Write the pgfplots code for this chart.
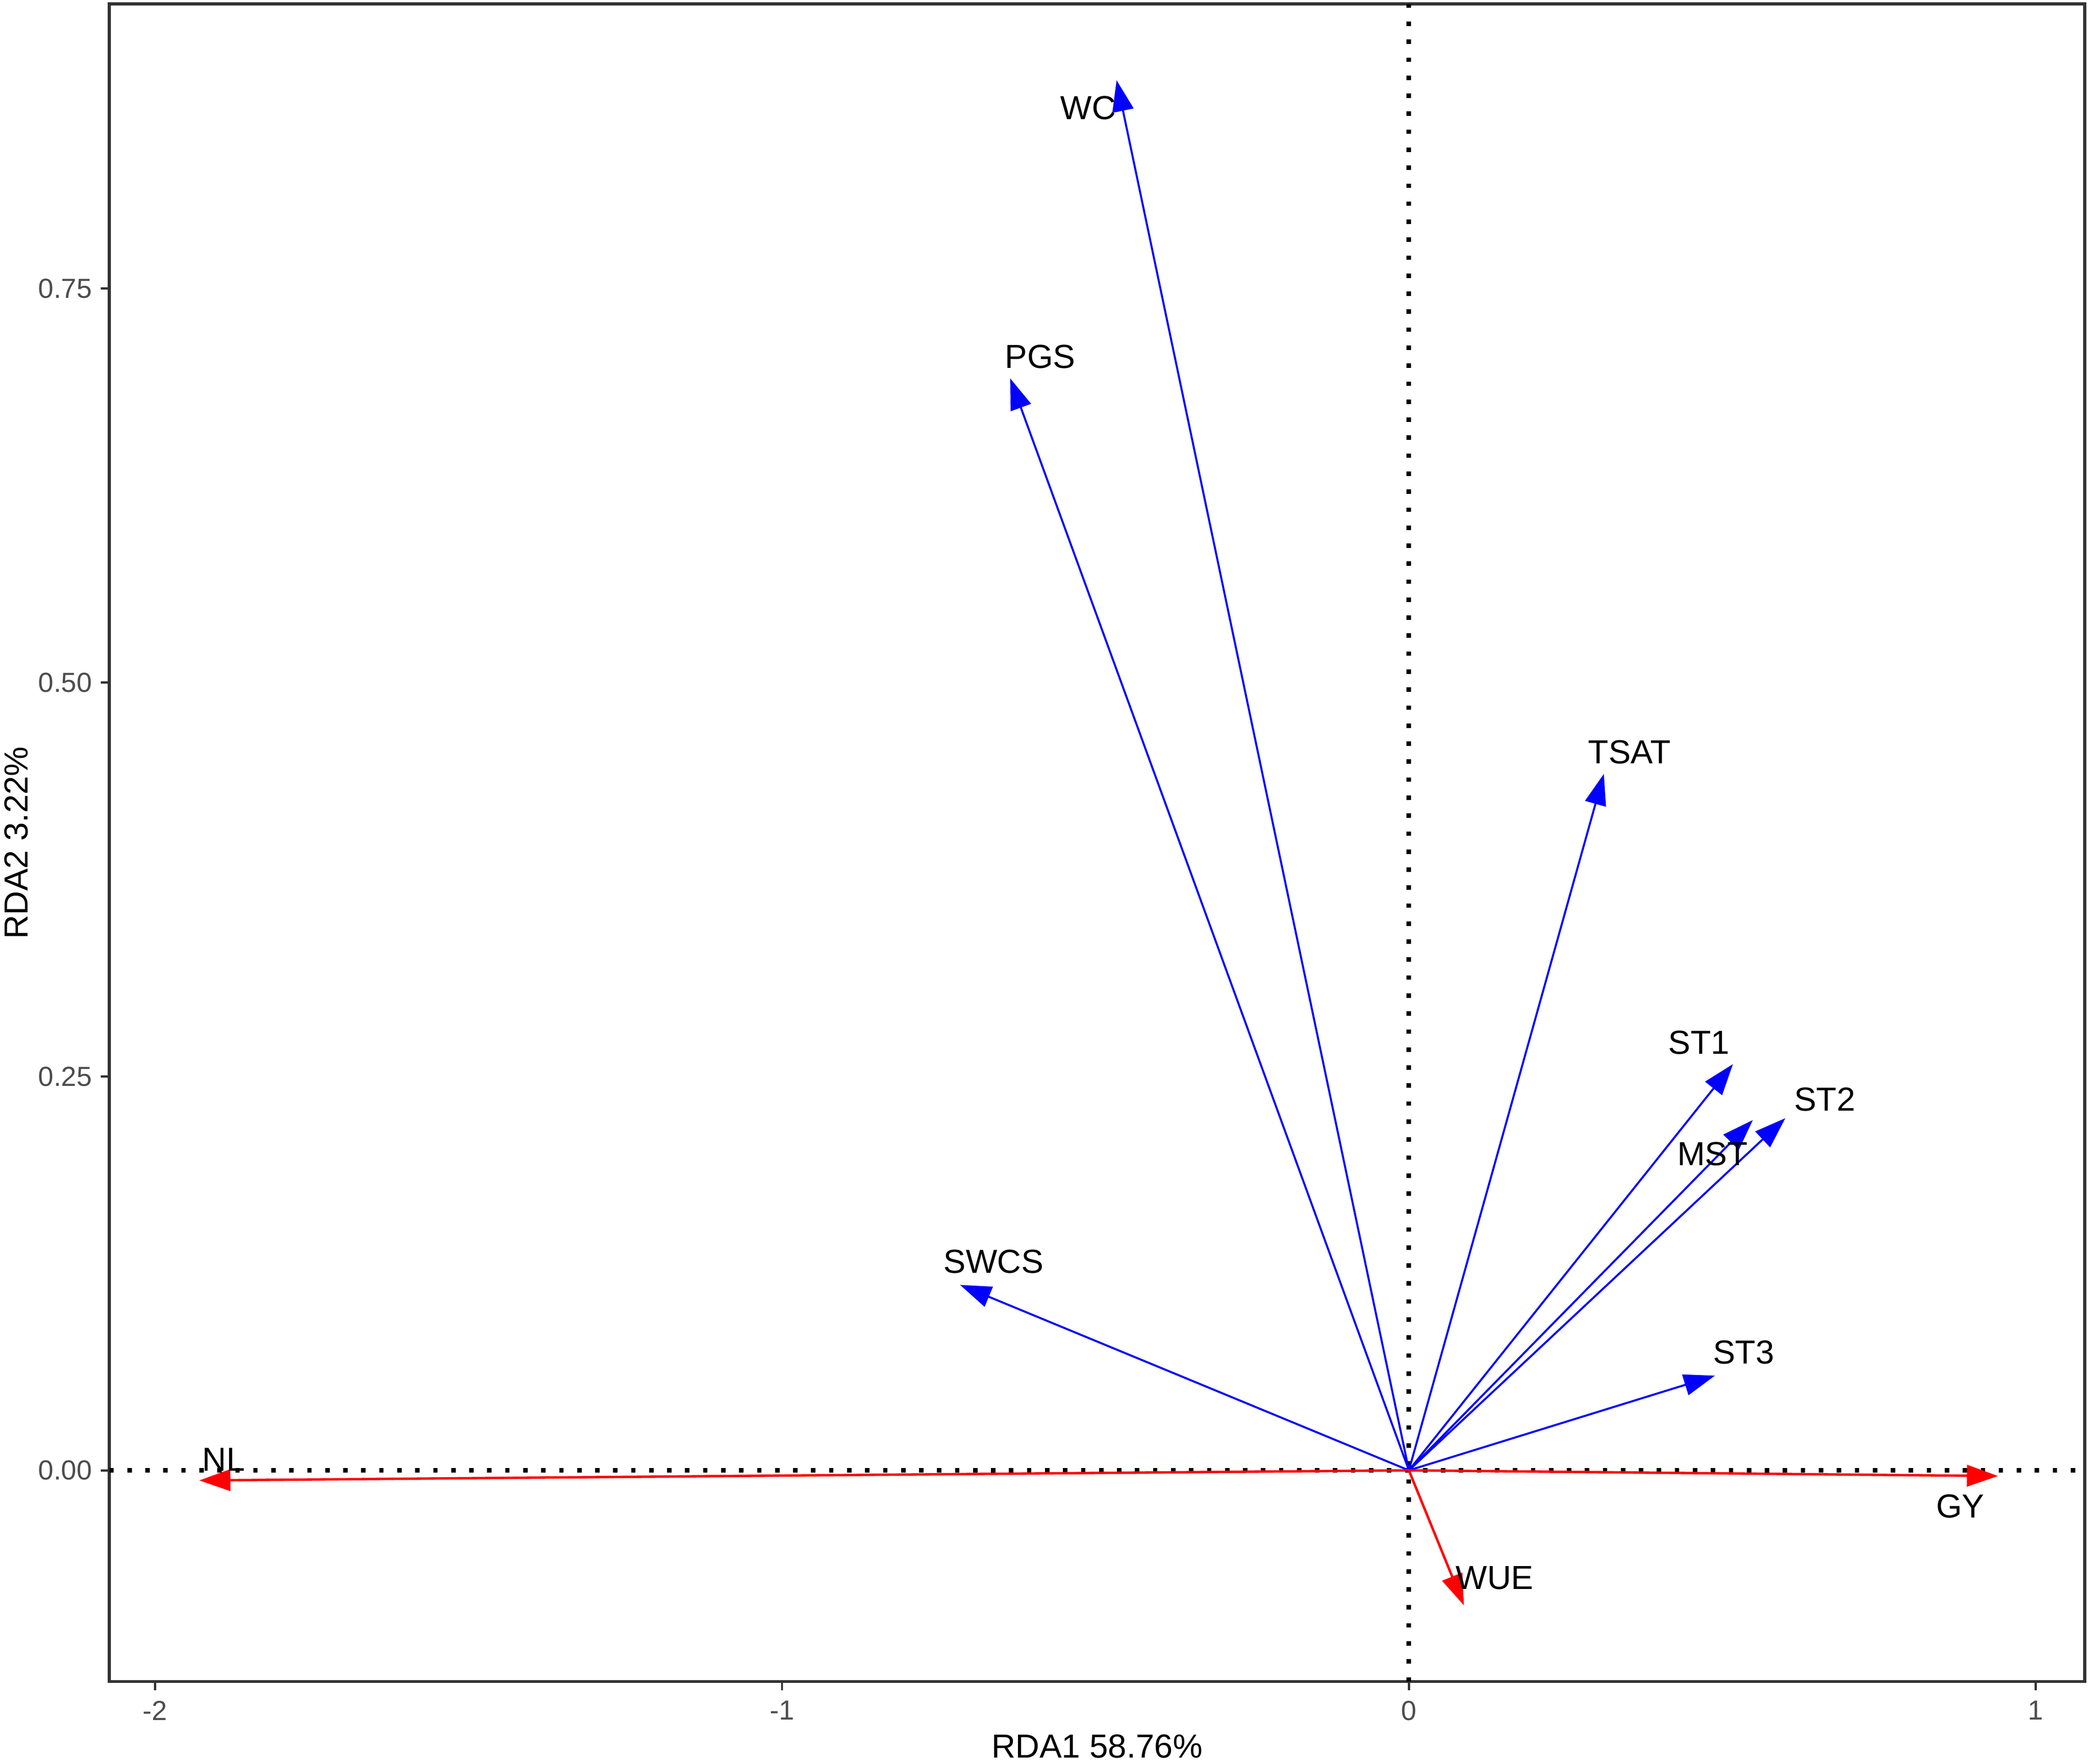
\documentclass[border=0pt]{standalone}
\usepackage{pgfplots}
\pgfplotsset{compat=1.18}
\usepackage{pgfplotstable}
\usepackage{fontspec}
\setmainfont{Liberation Sans}
\usetikzlibrary{arrows.meta}
\definecolor{tickgray}{HTML}{4D4D4D}
\definecolor{arrblue}{HTML}{0000FF}
\definecolor{arrred}{HTML}{FF0000}

% arrow ends (biplot scores), drawn from the origin
\pgfplotstableread{
x y u v
0 0 -0.4663 0.8822
0 0 -0.6360 0.6930
0 0 0.3110 0.4420
0 0 0.5169 0.2578
0 0 0.6005 0.2235
0 0 0.5486 0.2223
0 0 0.4882 0.0601
0 0 -0.7160 0.1177
}\blueArrows
\pgfplotstableread{
x y u v
0 0 0.9398 -0.0036
0 0 -1.9296 -0.0064
0 0 0.0878 -0.0857
}\redArrows
\pgfplotstableread{
x y name
-0.5116 0.8646 WC
-0.5881 0.7067 PGS
0.3520 0.4557 TSAT
0.4628 0.2715 ST1
0.6634 0.2354 ST2
0.4842 0.2007 MST
0.5338 0.0749 ST3
-0.6626 0.1324 SWCS
0.8794 -0.0227 GY
-1.8906 0.0069 NL
0.1367 -0.0683 WUE
}\labels

\begin{document}
\begin{tikzpicture}
\useasboundingbox (-24.6pt,-18.5pt) rectangle (445.8pt,378.45pt);
\begin{axis}[
  at={(0,0)}, anchor=south west,
  scale only axis, width=444.6pt, height=377.55pt,
  xmin=-2.0731, xmax=1.0780, ymin=-0.1341, ymax=0.9306,
  xtick={-2,-1,0,1}, xticklabels={-2,-1,0,1},
  ytick={0,0.25,0.5,0.75}, yticklabels={0.00,0.25,0.50,0.75},
  xtick pos=bottom, ytick pos=left,
  tick align=outside, major tick length=1.9pt,
  tick style={black!80, line width=0.5pt},
  axis line style={draw=black!80, line width=0.65pt},
  xticklabel style={font=\fontsize{6.2}{7}\selectfont, text=tickgray, inner sep=0pt, anchor=north, yshift=-2.25pt},
  yticklabel style={font=\fontsize{6.2}{7}\selectfont, text=tickgray, inner sep=0pt, anchor=east, xshift=-1.8pt},
  xlabel={RDA1 58.76\%}, ylabel={RDA2 3.22\%},
  xlabel style={at={(axis description cs:0.5,-0.0385)}, anchor=center, inner sep=0pt, font=\fontsize{7.5}{9}\selectfont},
  ylabel style={at={(axis description cs:-0.0472,0.5)}, anchor=center, inner sep=0pt, font=\fontsize{7.5}{9}\selectfont},
  clip=false,
]
% reference lines through the origin
\addplot[black, line width=1pt, dash pattern=on 1pt off 3.05pt] coordinates {(-2.0731,0) (1.0780,0)};
\addplot[black, line width=1pt, dash pattern=on 1pt off 3.05pt] coordinates {(0,-0.1341) (0,0.9306)};

\addplot[arrblue, line width=0.45pt, quiver={u=\thisrow{u}, v=\thisrow{v}},
  -{Triangle[length=7pt,width=4.8pt]}] table[x=x, y=y] {\blueArrows};
\addplot[arrred, line width=0.55pt, quiver={u=\thisrow{u}, v=\thisrow{v}},
  -{Triangle[length=7pt,width=4.8pt]}] table[x=x, y=y] {\redArrows};

\addplot[draw=none, mark=none, nodes near coords, point meta=explicit symbolic,
  nodes near coords align={center},
  nodes near coords style={anchor=center, inner sep=0pt, text=black, font=\fontsize{7.5}{9}\selectfont}]
  table[x=x, y=y, meta=name] {\labels};
\end{axis}
\end{tikzpicture}
\end{document}
